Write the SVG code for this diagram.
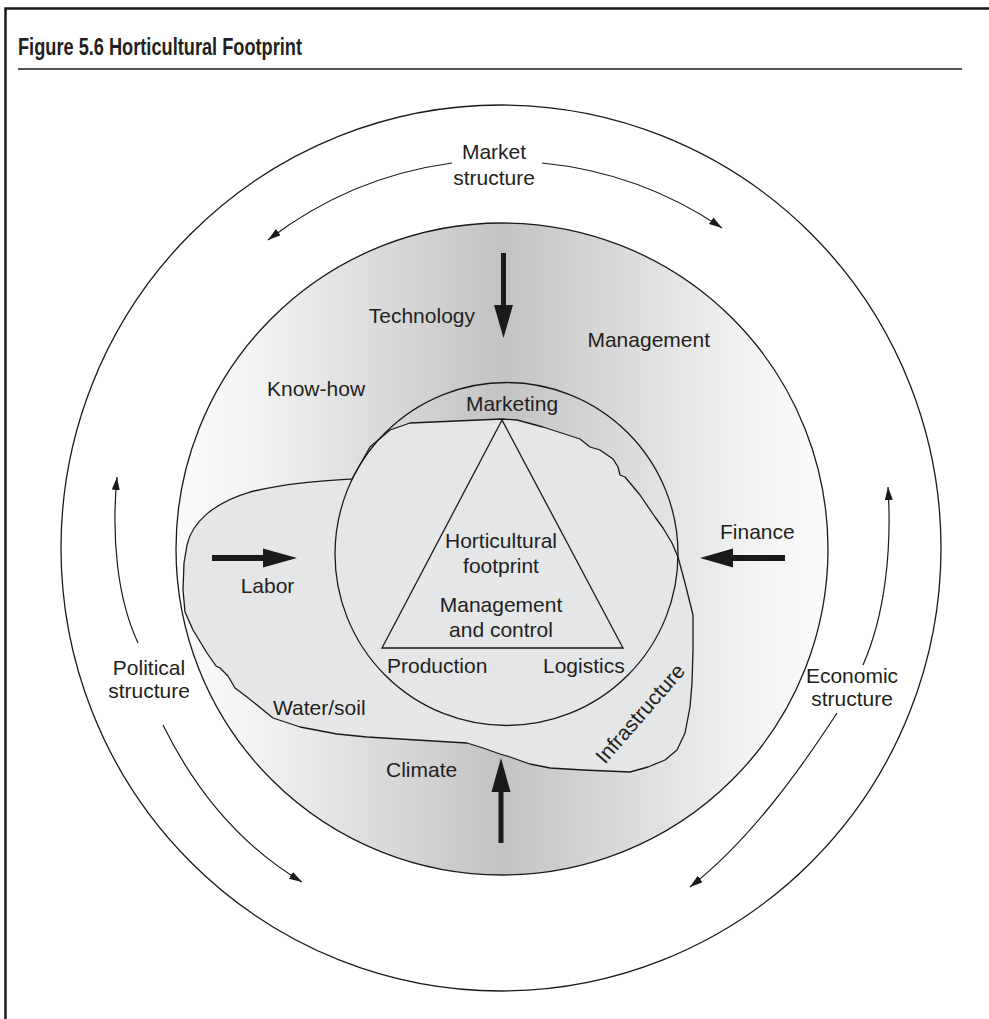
<svg xmlns="http://www.w3.org/2000/svg" width="989" height="1019" viewBox="0 0 989 1019">
  <defs>
    <!-- horizontal shading of the middle disc: light rim, darker centre -->
    <linearGradient id="discShade" x1="176" y1="0" x2="828" y2="0" gradientUnits="userSpaceOnUse">
      <stop offset="0" stop-color="#fbfbfb"/>
      <stop offset="0.12" stop-color="#f3f3f3"/>
      <stop offset="0.5" stop-color="#c3c3c3"/>
      <stop offset="0.88" stop-color="#f3f3f3"/>
      <stop offset="1" stop-color="#fbfbfb"/>
    </linearGradient>
    <marker id="tip" markerUnits="userSpaceOnUse" markerWidth="14" markerHeight="10" refX="13" refY="4" orient="auto">
      <path d="M0,0 L13,4 L0,8 Z" fill="#1a1a1a"/>
    </marker>
    <style>
      .ring { fill: none; stroke: #1a1a1a; stroke-width: 1.3; }
      .lbl { font-family: "Liberation Sans", Arial, sans-serif; font-size: 21px; fill: #231f20; }
      .mid { text-anchor: middle; }
      .end { text-anchor: end; }
      .flow { fill: none; stroke: #1a1a1a; stroke-width: 1.2; marker-end: url(#tip); }
      .block { fill: #1a1a1a; }
    </style>
  </defs>

  <rect width="989" height="1019" fill="#ffffff"/>

  <!-- frame and heading -->
  <g id="frame">
    <path d="M5.5 1019 V8.5 H989" fill="none" stroke="#1a1a1a" stroke-width="2.5"/>
    <text x="18" y="55" font-family="'Liberation Sans Narrow', 'Liberation Sans', Arial, sans-serif" font-weight="bold" font-size="23.5" fill="#231f20" textLength="284" lengthAdjust="spacingAndGlyphs">Figure 5.6  Horticultural Footprint</text>
    <line x1="18" y1="69" x2="962" y2="69" stroke="#1a1a1a" stroke-width="1.3"/>
  </g>

  <!-- outer ring: structures -->
  <g id="outer-ring">
    <ellipse class="ring" cx="501" cy="548" rx="440" ry="443"/>
  </g>

  <!-- shaded disc: resources -->
  <g id="resource-disc">
    <circle cx="502" cy="549" r="326" fill="url(#discShade)" stroke="#1a1a1a" stroke-width="1.3"/>
  </g>

  <!-- irregular footprint area -->
  <g id="footprint-area">
    <path fill="#e5e6e8" stroke="#1a1a1a" stroke-width="1.3" stroke-linejoin="round"
      d="M187 545 C192 522 215 502 250 492 C285 483 320 481 352 479
         L370 447 L390 430 L410 423 L502 419 L517 420 L543 427 L580 439
         L590 447 L600 450 L613 459 L618 467 L620 475 L625 477 L640 495
         L655 517 L663 528 L672 543 L678 557 L685 583 L693 615 L693 650
         L692 683 L690 707 L685 733 L677 750 L665 760 L648 767 L630 772
         L583 770 L550 768 L530 764 L510 757 L500 754 L483 748 L467 743
         L450 742 L400 739 L367 737 L337 734 L300 727 L273 718 L247 697
         L235 688 L228 676 L220 668 L216 666 L207 653 L193 630 L185 612
         L183 590 L184 563 Z"/>
  </g>

  <!-- core circle and triangle -->
  <g id="core-circle">
    <circle class="ring" cx="506.5" cy="554" r="171.5"/>
  </g>
  <g id="core-triangle">
    <path d="M502 420 L382 648 L623 648 Z" fill="none" stroke="#1a1a1a" stroke-width="1.3" stroke-linejoin="miter"/>
  </g>

  <!-- connectors: circulating arcs and influence arrows -->
  <g id="connectors">
    <path class="flow" d="M452 163 A388 388 0 0 0 268 240"/>
    <path class="flow" d="M542 163 A388 388 0 0 1 722 228"/>
    <path class="flow" d="M138 643 C118 600 111 540 117 477"/>
    <path class="flow" d="M163 725 C195 790 240 845 302 882"/>
    <path class="flow" d="M863 665 C885 615 892 550 888 487"/>
    <path class="flow" d="M837 713 C800 770 750 840 690 887"/>

    <!-- Technology (down) -->
    <path class="block" d="M501 253 H506 V305 H513 L503.5 338 L494 305 H501 Z"/>
    <!-- Climate (up) -->
    <path class="block" d="M498.5 843 V792 H491.5 L501 758 L510.5 792 H503.5 V843 Z"/>
    <!-- Labor (right) -->
    <path class="block" d="M212 555 H263 V548.5 L297 558 L263 567.5 V561 H212 Z"/>
    <!-- Finance (left) -->
    <path class="block" d="M785 555 H733 V548.5 L700 558 L733 567.5 V561 H785 Z"/>
  </g>

  <!-- labels -->
  <g id="labels">
    <g id="market-structure">
      <text class="lbl mid" x="494" y="159">Market</text>
      <text class="lbl mid" x="494" y="185">structure</text>
    </g>
    <g id="political-structure">
      <text class="lbl mid" x="149" y="675">Political</text>
      <text class="lbl mid" x="149" y="698">structure</text>
    </g>
    <g id="economic-structure">
      <text class="lbl mid" x="852" y="683">Economic</text>
      <text class="lbl mid" x="852" y="706">structure</text>
    </g>
    <text id="technology" class="lbl end" x="475" y="323">Technology</text>
    <text id="management" class="lbl end" x="710" y="347">Management</text>
    <text id="know-how" class="lbl" x="267" y="396">Know-how</text>
    <text id="marketing" class="lbl mid" x="512" y="411">Marketing</text>
    <text id="finance" class="lbl" x="720" y="539">Finance</text>
    <text id="labor" class="lbl mid" x="267.5" y="593">Labor</text>
    <g id="core-text">
      <text class="lbl mid" x="501" y="548">Horticultural</text>
      <text class="lbl mid" x="501" y="573">footprint</text>
      <text class="lbl mid" x="501" y="612">Management</text>
      <text class="lbl mid" x="501" y="637">and control</text>
    </g>
    <text id="production" class="lbl" x="387" y="673">Production</text>
    <text id="logistics" class="lbl" x="543" y="673">Logistics</text>
    <text id="water-soil" class="lbl" x="273" y="715">Water/soil</text>
    <text id="climate" class="lbl" x="386" y="777">Climate</text>
    <text id="infrastructure" class="lbl" transform="translate(605 765) rotate(-49)">Infrastructure</text>
  </g>
</svg>
